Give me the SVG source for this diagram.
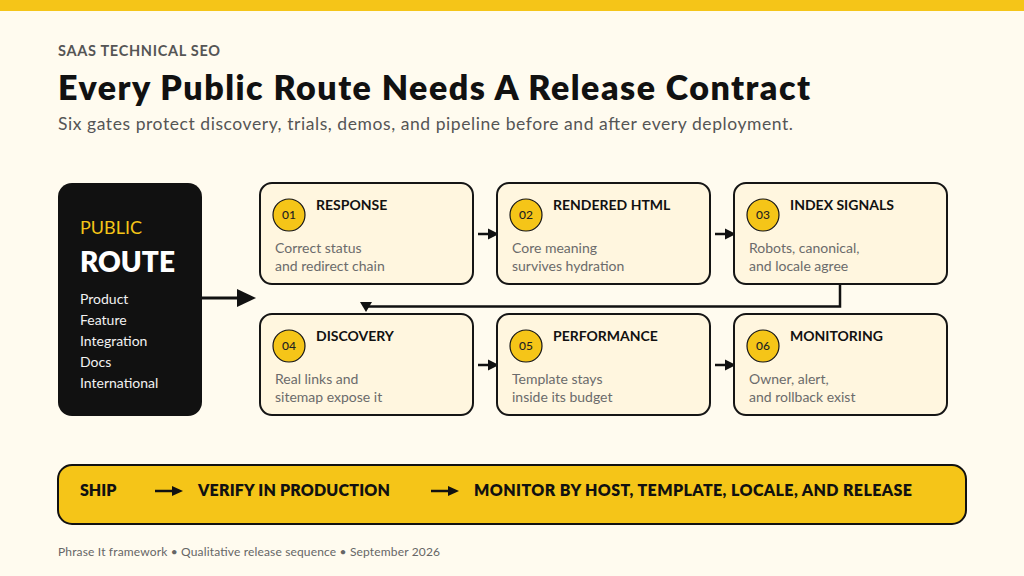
<svg xmlns="http://www.w3.org/2000/svg" width="1024" height="576" viewBox="0 0 1024 576">
<defs>
<style>
text{font-family:Lato,"Noto Sans","Liberation Sans",sans-serif}
.card{fill:#FFF6DF;stroke:#151515;stroke-width:2}
.badge{fill:#F5C518;stroke:#151515;stroke-width:1.2}
.num{font-size:12px;fill:#222;text-anchor:middle;font-weight:500}
.ct{font-size:14px;font-weight:700;fill:#111}
.cd{font-size:14px;fill:#6b6b6b}
.li{font-size:14px;fill:#f2f2f2}
.bb{font-size:16px;font-weight:800;fill:#111}
.ln{stroke:#111;stroke-width:2.5;fill:none}
</style>
</defs>
<rect width="1024" height="576" fill="#FFFBEF"/>
<rect width="1024" height="11" fill="#F5C518"/>
<g id="header">
<text x="58" y="56" font-size="14.5" font-weight="700" fill="#555" textLength="162" lengthAdjust="spacing">SAAS TECHNICAL SEO</text>
<text x="58" y="100" font-size="34" font-weight="800" fill="#111" textLength="752" lengthAdjust="spacing">Every Public Route Needs A Release Contract</text>
<text x="58" y="130" font-size="17.5" fill="#555" textLength="735" lengthAdjust="spacing">Six gates protect discovery, trials, demos, and pipeline before and after every deployment.</text>
</g>
<g id="route">
<rect x="58" y="183" width="144" height="233" rx="14" fill="#111"/>
<text x="80" y="234" font-size="18" fill="#F5C518">PUBLIC</text>
<text x="80" y="272" font-size="28" font-weight="800" fill="#fff">ROUTE</text>
<text x="80" y="304" class="li">Product</text>
<text x="80" y="325" class="li">Feature</text>
<text x="80" y="346" class="li">Integration</text>
<text x="80" y="367" class="li">Docs</text>
<text x="80" y="388" class="li">International</text>
</g>
<g id="connectors">
<line x1="202" y1="298" x2="238" y2="298" stroke="#111" stroke-width="3"/>
<path d="M237,289 L256,298 L237,307 z" fill="#111"/>
<line x1="478" y1="234" x2="490" y2="234" class="ln"/>
<path d="M488,228.5 L499,234 L488,239.5 z" fill="#111"/>
<line x1="715" y1="234" x2="727" y2="234" class="ln"/>
<path d="M725,228.5 L736,234 L725,239.5 z" fill="#111"/>
<line x1="478" y1="365" x2="490" y2="365" class="ln"/>
<path d="M488,359.5 L499,365 L488,370.5 z" fill="#111"/>
<line x1="715" y1="365" x2="727" y2="365" class="ln"/>
<path d="M725,359.5 L736,365 L725,370.5 z" fill="#111"/>
<path d="M840,284 V306.5 H366 V304" class="ln"/>
<path d="M360,302 L372,302 L366,312 z" fill="#111"/>
</g>
<g id="n1">
<rect x="260" y="183" width="213" height="101" rx="12" class="card"/>
<circle cx="289" cy="215" r="16" class="badge"/>
<text x="289" y="219" class="num">01</text>
<text x="316" y="210" class="ct">RESPONSE</text>
<text x="275" y="253" class="cd">Correct status</text>
<text x="275" y="271" class="cd">and redirect chain</text>
</g>
<g id="n2">
<rect x="497" y="183" width="213" height="101" rx="12" class="card"/>
<circle cx="526" cy="215" r="16" class="badge"/>
<text x="526" y="219" class="num">02</text>
<text x="553" y="210" class="ct">RENDERED HTML</text>
<text x="512" y="253" class="cd">Core meaning</text>
<text x="512" y="271" class="cd">survives hydration</text>
</g>
<g id="n3">
<rect x="734" y="183" width="213" height="101" rx="12" class="card"/>
<circle cx="763" cy="215" r="16" class="badge"/>
<text x="763" y="219" class="num">03</text>
<text x="790" y="210" class="ct">INDEX SIGNALS</text>
<text x="749" y="253" class="cd">Robots, canonical,</text>
<text x="749" y="271" class="cd">and locale agree</text>
</g>
<g id="n4">
<rect x="260" y="314" width="213" height="101" rx="12" class="card"/>
<circle cx="289" cy="346" r="16" class="badge"/>
<text x="289" y="350" class="num">04</text>
<text x="316" y="341" class="ct">DISCOVERY</text>
<text x="275" y="384" class="cd">Real links and</text>
<text x="275" y="402" class="cd">sitemap expose it</text>
</g>
<g id="n5">
<rect x="497" y="314" width="213" height="101" rx="12" class="card"/>
<circle cx="526" cy="346" r="16" class="badge"/>
<text x="526" y="350" class="num">05</text>
<text x="553" y="341" class="ct">PERFORMANCE</text>
<text x="512" y="384" class="cd">Template stays</text>
<text x="512" y="402" class="cd">inside its budget</text>
</g>
<g id="n6">
<rect x="734" y="314" width="213" height="101" rx="12" class="card"/>
<circle cx="763" cy="346" r="16" class="badge"/>
<text x="763" y="350" class="num">06</text>
<text x="790" y="341" class="ct">MONITORING</text>
<text x="749" y="384" class="cd">Owner, alert,</text>
<text x="749" y="402" class="cd">and rollback exist</text>
</g>
<g id="release">
<rect x="58" y="465" width="908" height="59" rx="14" fill="#F5C518" stroke="#111" stroke-width="2"/>
<text x="80" y="496" class="bb">SHIP</text>
<line x1="155" y1="491" x2="174" y2="491" class="ln"/>
<path d="M172,486 L183,491 L172,496 z" fill="#111"/>
<text x="198" y="496" class="bb" textLength="192" lengthAdjust="spacing">VERIFY IN PRODUCTION</text>
<line x1="431" y1="491" x2="450" y2="491" class="ln"/>
<path d="M448,486 L459,491 L448,496 z" fill="#111"/>
<text x="474" y="496" class="bb" textLength="438" lengthAdjust="spacing">MONITOR BY HOST, TEMPLATE, LOCALE, AND RELEASE</text>
</g>
<text x="58" y="556" font-size="12" fill="#666" textLength="382" lengthAdjust="spacing">Phrase It framework • Qualitative release sequence • September 2026</text>
</svg>
